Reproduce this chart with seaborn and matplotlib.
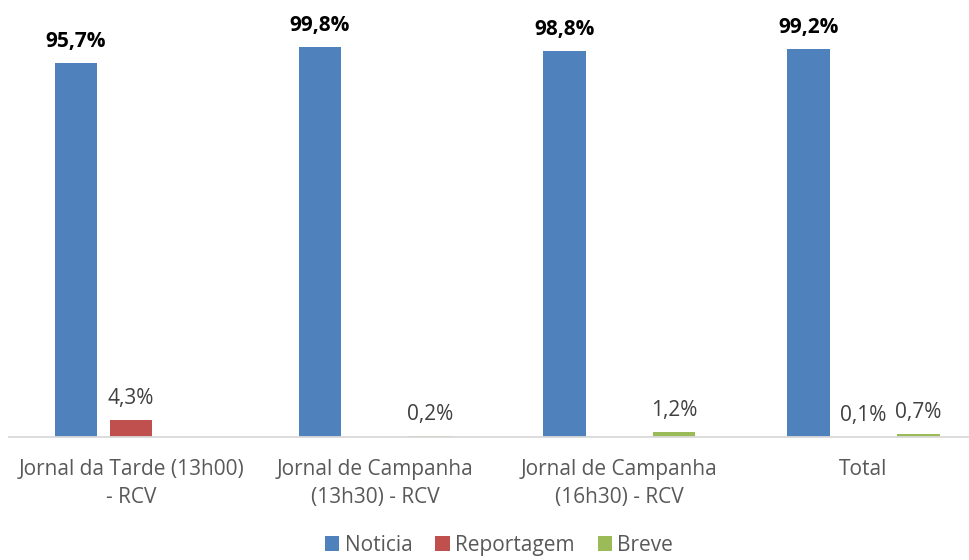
import pandas as pd
import matplotlib.pyplot as plt
import seaborn as sns

# data
categories = ["Jornal da Tarde (13h00)\n- RCV",
              "Jornal de Campanha\n(13h30) - RCV",
              "Jornal de Campanha\n(16h30) - RCV",
              "Total"]
series = ["Noticia", "Reportagem", "Breve"]
noticia = [95.7, 99.8, 98.8, 99.2]
reportagem = [4.3, 0.0, 0.0, 0.1]
breve = [0.0, 0.2, 1.2, 0.7]
colors = ["#4F81BD", "#C0504D", "#9BBB59"]


def build_frame():
    rows = []
    for name, vals in zip(series, [noticia, reportagem, breve]):
        for cat, v in zip(categories, vals):
            rows.append({"cat": cat, "tipo": name, "valor": v})
    return pd.DataFrame(rows)


def main():
    sns.set_theme(style="white")
    plt.rcParams['font.family'] = ['Open Sans', 'DejaVu Sans']
    df = build_frame()

    fig = plt.figure(figsize=(9.69, 5.6), dpi=100)
    ax = fig.add_axes([9 / 969, (560 - 437) / 560, 959 / 969, 437 / 560])

    sns.barplot(data=df, x="cat", y="valor", hue="tipo", order=categories,
                hue_order=series, palette=colors, width=0.676, gap=0.22,
                saturation=1, ax=ax, edgecolor="none")

    ax.set_xlim(-0.5, 3.43)
    ax.set_ylim(0, 111.8)
    ax.set_xlabel("")
    ax.set_ylabel("")
    ax.set_yticks([])
    for s in ["top", "right", "left"]:
        ax.spines[s].set_visible(False)
    ax.spines["bottom"].set_color("#D9D9D9")
    ax.spines["bottom"].set_linewidth(1.3)
    ax.tick_params(axis="x", length=0, pad=16, labelsize=15, colors="#595959")
    for lbl in ax.get_xticklabels():
        lbl.set_linespacing(1.4)

    # data labels, bold for Noticia
    for i, cont in enumerate(ax.containers):
        for bar in cont:
            h = bar.get_height()
            if h <= 0:
                continue
            txt = f"{h:.1f}%".replace(".", ",")
            ax.annotate(txt, (bar.get_x() + bar.get_width() / 2, h),
                        xytext=(0, 15.5), textcoords="offset points",
                        ha="center", va="center", fontsize=15,
                        fontweight="bold" if i == 0 else "normal",
                        color="black" if i == 0 else "#404040")

    sns.move_legend(ax, "center", bbox_to_anchor=(0.515, 0.026),
                    bbox_transform=fig.transFigure, ncol=3, frameon=False,
                    title=None, fontsize=15, handlelength=0.7,
                    handleheight=0.7, handletextpad=0.25, columnspacing=1.1,
                    labelcolor="#595959")

    fig.savefig("out.png", dpi=100)


if __name__ == "__main__":
    main()
